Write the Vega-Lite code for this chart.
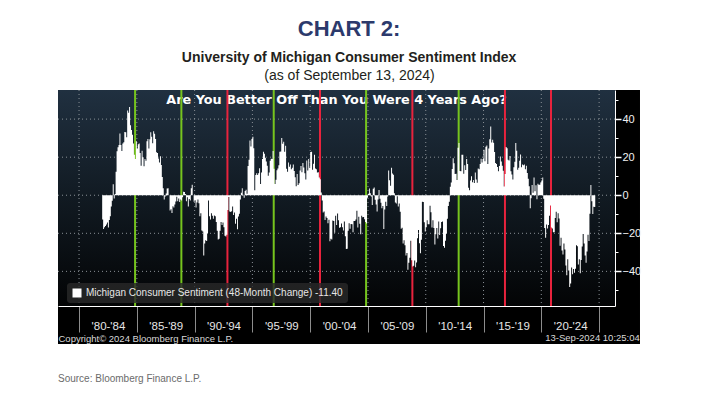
{
  "$schema": "https://vega.github.io/schema/vega-lite/v6.json",
  "width": 557,
  "height": 216,
  "autosize": {"type": "none"},
  "padding": {"left": 58, "top": 90, "right": 88, "bottom": 95},
  "background": "#ffffff",
  "title": {
    "text": "CHART 2:",
    "subtitle": "University of Michigan Consumer Sentiment Index",
    "anchor": "middle",
    "frame": "bounds",
    "font": "Liberation Sans, sans-serif",
    "fontSize": 22,
    "fontWeight": "bold",
    "color": "#2c3a6c",
    "subtitleFont": "Liberation Sans, sans-serif",
    "subtitleFontSize": 14,
    "subtitleFontWeight": "bold",
    "subtitleColor": "#231f20",
    "subtitlePadding": 10,
    "offset": 2
  },
  "config": {"view": {"stroke": null}, "axis": {"grid": false}},
  "resolve": {"axis": {"x": "independent", "y": "independent"}},
  "datasets": {
    "ygrid": [{"v": 40}, {"v": 20}, {"v": 0}, {"v": -20}, {"v": -40}],
    "xgrid": [{"d": "1980-01-01"}, {"d": "1985-01-01"}, {"d": "1990-01-01"}, {"d": "1995-01-01"}, {"d": "2000-01-01"}, {"d": "2005-01-01"}, {"d": "2010-01-01"}, {"d": "2015-01-01"}, {"d": "2020-01-01"}, {"d": "2025-01-01"}],
    "elections": [
      {"d": "1984-11-06", "outcome": "held"}, {"d": "1988-11-08", "outcome": "held"},
      {"d": "1992-11-03", "outcome": "lost"}, {"d": "1996-11-05", "outcome": "held"},
      {"d": "2000-11-07", "outcome": "lost"}, {"d": "2004-11-02", "outcome": "held"},
      {"d": "2008-11-04", "outcome": "lost"}, {"d": "2012-11-06", "outcome": "held"},
      {"d": "2016-11-08", "outcome": "lost"}, {"d": "2020-11-03", "outcome": "lost"}
    ],
    "series": [
      {"d":"1982-01","v":-12.7},{"d":"1982-02","v":-17.8},{"d":"1982-03","v":-16.8},{"d":"1982-04","v":-16.1},{"d":"1982-05","v":-15.4},{"d":"1982-06","v":-14.3},{"d":"1982-07","v":-17.0},{"d":"1982-08","v":-13.0},{"d":"1982-09","v":-11.1},{"d":"1982-10","v":-5.9},{"d":"1982-11","v":-2.9},{"d":"1982-12","v":5.8},
      {"d":"1983-01","v":-1.7},{"d":"1983-02","v":0.7},{"d":"1983-03","v":12.4},{"d":"1983-04","v":23.1},{"d":"1983-05","v":25.2},{"d":"1983-06","v":26.4},{"d":"1983-07","v":32.4},{"d":"1983-08","v":26.4},{"d":"1983-09","v":23.2},{"d":"1983-10","v":27.2},{"d":"1983-11","v":27.8},{"d":"1983-12","v":33.2},
      {"d":"1984-01","v":33.1},{"d":"1984-02","v":30.5},{"d":"1984-03","v":44.5},{"d":"1984-04","v":43.4},{"d":"1984-05","v":46.4},{"d":"1984-06","v":36.8},{"d":"1984-07","v":34.3},{"d":"1984-08","v":31.8},{"d":"1984-09","v":27.2},{"d":"1984-10","v":21.3},{"d":"1984-11","v":19.0},{"d":"1984-12","v":28.4},
      {"d":"1985-01","v":24.6},{"d":"1985-02","v":26.8},{"d":"1985-03","v":27.2},{"d":"1985-04","v":22.2},{"d":"1985-05","v":15.5},{"d":"1985-06","v":23.4},{"d":"1985-07","v":19.9},{"d":"1985-08","v":15.2},{"d":"1985-09","v":19.0},{"d":"1985-10","v":18.1},{"d":"1985-11","v":28.4},{"d":"1985-12","v":29.6},
      {"d":"1986-01","v":24.6},{"d":"1986-02","v":29.4},{"d":"1986-03","v":33.1},{"d":"1986-04","v":30.7},{"d":"1986-05","v":27.3},{"d":"1986-06","v":33.6},{"d":"1986-07","v":32.3},{"d":"1986-08","v":29.5},{"d":"1986-09","v":22.6},{"d":"1986-10","v":22.2},{"d":"1986-11","v":19.3},{"d":"1986-12","v":17.2},
      {"d":"1987-01","v":20.5},{"d":"1987-02","v":15.9},{"d":"1987-03","v":9.6},{"d":"1987-04","v":3.7},{"d":"1987-05","v":-2.2},{"d":"1987-06","v":-0.7},{"d":"1987-07","v":0.9},{"d":"1987-08","v":3.5},{"d":"1987-09","v":3.7},{"d":"1987-10","v":0.0},{"d":"1987-11","v":-8.0},{"d":"1987-12","v":-7.4},
      {"d":"1988-01","v":-9.3},{"d":"1988-02","v":-5.8},{"d":"1988-03","v":-6.4},{"d":"1988-04","v":-4.9},{"d":"1988-05","v":-3.3},{"d":"1988-06","v":-0.8},{"d":"1988-07","v":-3.2},{"d":"1988-08","v":-1.7},{"d":"1988-09","v":-3.6},{"d":"1988-10","v":-2.2},{"d":"1988-11","v":-2.7},{"d":"1988-12","v":-1.0},
      {"d":"1989-01","v":1.9},{"d":"1989-02","v":1.7},{"d":"1989-03","v":0.6},{"d":"1989-04","v":-3.1},{"d":"1989-05","v":-1.1},{"d":"1989-06","v":-5.9},{"d":"1989-07","v":-2.0},{"d":"1989-08","v":-2.8},{"d":"1989-09","v":3.7},{"d":"1989-10","v":5.5},{"d":"1989-11","v":0.0},{"d":"1989-12","v":-3.4},
      {"d":"1990-01","v":-2.6},{"d":"1990-02","v":-6.4},{"d":"1990-03","v":-3.8},{"d":"1990-04","v":-2.3},{"d":"1990-05","v":-4.2},{"d":"1990-06","v":-11.0},{"d":"1990-07","v":-9.5},{"d":"1990-08","v":-18.5},{"d":"1990-09","v":-19.1},{"d":"1990-10","v":-31.7},{"d":"1990-11","v":-25.4},{"d":"1990-12","v":-23.6},
      {"d":"1991-01","v":-24.1},{"d":"1991-02","v":-20.1},{"d":"1991-03","v":-2.7},{"d":"1991-04","v":-11.0},{"d":"1991-05","v":-12.8},{"d":"1991-06","v":-9.4},{"d":"1991-07","v":-10.8},{"d":"1991-08","v":-12.4},{"d":"1991-09","v":-10.6},{"d":"1991-10","v":-11.0},{"d":"1991-11","v":-14.0},{"d":"1991-12","v":-18.6},
      {"d":"1992-01","v":-23.3},{"d":"1992-02","v":-22.8},{"d":"1992-03","v":-18.6},{"d":"1992-04","v":-14.0},{"d":"1992-05","v":-15.6},{"d":"1992-06","v":-14.3},{"d":"1992-07","v":-16.8},{"d":"1992-08","v":-21.3},{"d":"1992-09","v":-21.7},{"d":"1992-10","v":-20.8},{"d":"1992-11","v":-7.7},{"d":"1992-12","v":-0.9},
      {"d":"1993-01","v":-8.6},{"d":"1993-02","v":-8.8},{"d":"1993-03","v":-8.4},{"d":"1993-04","v":-5.9},{"d":"1993-05","v":-10.4},{"d":"1993-06","v":-9.1},{"d":"1993-07","v":-15.0},{"d":"1993-08","v":-12.3},{"d":"1993-09","v":-17.9},{"d":"1993-10","v":-11.2},{"d":"1993-11","v":-9.7},{"d":"1993-12","v":-2.3},
      {"d":"1994-01","v":1.3},{"d":"1994-02","v":3.7},{"d":"1994-03","v":0.2},{"d":"1994-04","v":-1.3},{"d":"1994-05","v":2.2},{"d":"1994-06","v":2.9},{"d":"1994-07","v":0.8},{"d":"1994-08","v":15.3},{"d":"1994-09","v":18.7},{"d":"1994-10","v":28.8},{"d":"1994-11","v":25.6},{"d":"1994-12","v":29.6},
      {"d":"1995-01","v":30.8},{"d":"1995-02","v":24.7},{"d":"1995-03","v":2.6},{"d":"1995-04","v":10.7},{"d":"1995-05","v":11.5},{"d":"1995-06","v":10.6},{"d":"1995-07","v":11.5},{"d":"1995-08","v":14.2},{"d":"1995-09","v":5.9},{"d":"1995-10","v":11.9},{"d":"1995-11","v":19.1},{"d":"1995-12","v":22.8},
      {"d":"1996-01","v":21.8},{"d":"1996-02","v":19.7},{"d":"1996-03","v":17.7},{"d":"1996-04","v":15.5},{"d":"1996-05","v":10.2},{"d":"1996-06","v":12.0},{"d":"1996-07","v":18.1},{"d":"1996-08","v":19.2},{"d":"1996-09","v":19.1},{"d":"1996-10","v":23.2},{"d":"1996-11","v":13.9},{"d":"1996-12","v":5.9},
      {"d":"1997-01","v":8.1},{"d":"1997-02","v":13.1},{"d":"1997-03","v":14.1},{"d":"1997-04","v":15.8},{"d":"1997-05","v":22.9},{"d":"1997-06","v":23.0},{"d":"1997-07","v":30.1},{"d":"1997-08","v":27.1},{"d":"1997-09","v":28.1},{"d":"1997-10","v":22.9},{"d":"1997-11","v":26.0},{"d":"1997-12","v":13.9},
      {"d":"1998-01","v":12.3},{"d":"1998-02","v":17.2},{"d":"1998-03","v":15.0},{"d":"1998-04","v":16.1},{"d":"1998-05","v":13.7},{"d":"1998-06","v":14.4},{"d":"1998-07","v":16.2},{"d":"1998-08","v":12.7},{"d":"1998-09","v":9.4},{"d":"1998-10","v":4.7},{"d":"1998-11","v":11.1},{"d":"1998-12","v":5.4},
      {"d":"1999-01","v":6.3},{"d":"1999-02","v":13.0},{"d":"1999-03","v":15.4},{"d":"1999-04","v":12.1},{"d":"1999-05","v":17.0},{"d":"1999-06","v":14.6},{"d":"1999-07","v":11.6},{"d":"1999-08","v":8.3},{"d":"1999-09","v":18.3},{"d":"1999-10","v":13.0},{"d":"1999-11","v":19.0},{"d":"1999-12","v":14.4},
      {"d":"2000-01","v":22.7},{"d":"2000-02","v":22.8},{"d":"2000-03","v":13.4},{"d":"2000-04","v":16.5},{"d":"2000-05","v":21.3},{"d":"2000-06","v":14.0},{"d":"2000-07","v":13.6},{"d":"2000-08","v":12.0},{"d":"2000-09","v":12.1},{"d":"2000-10","v":9.3},{"d":"2000-11","v":8.4},{"d":"2000-12","v":1.5},
      {"d":"2001-01","v":-2.7},{"d":"2001-02","v":-9.1},{"d":"2001-03","v":-8.5},{"d":"2001-04","v":-13.0},{"d":"2001-05","v":-11.2},{"d":"2001-06","v":-11.9},{"d":"2001-07","v":-14.7},{"d":"2001-08","v":-12.9},{"d":"2001-09","v":-24.2},{"d":"2001-10","v":-22.9},{"d":"2001-11","v":-23.3},{"d":"2001-12","v":-13.3},
      {"d":"2002-01","v":-13.6},{"d":"2002-02","v":-19.7},{"d":"2002-03","v":-10.8},{"d":"2002-04","v":-15.7},{"d":"2002-05","v":-9.6},{"d":"2002-06","v":-13.2},{"d":"2002-07","v":-17.1},{"d":"2002-08","v":-16.8},{"d":"2002-09","v":-14.8},{"d":"2002-10","v":-16.8},{"d":"2002-11","v":-18.5},{"d":"2002-12","v":-13.8},
      {"d":"2003-01","v":-21.5},{"d":"2003-02","v":-28.2},{"d":"2003-03","v":-28.1},{"d":"2003-04","v":-18.6},{"d":"2003-05","v":-14.7},{"d":"2003-06","v":-17.6},{"d":"2003-07","v":-15.1},{"d":"2003-08","v":-15.2},{"d":"2003-09","v":-19.5},{"d":"2003-10","v":-13.6},{"d":"2003-11","v":-13.5},{"d":"2003-12","v":-12.8},
      {"d":"2004-01","v":-8.2},{"d":"2004-02","v":-16.9},{"d":"2004-03","v":-11.3},{"d":"2004-04","v":-15.0},{"d":"2004-05","v":-20.5},{"d":"2004-06","v":-10.8},{"d":"2004-07","v":-11.6},{"d":"2004-08","v":-11.4},{"d":"2004-09","v":-12.6},{"d":"2004-10","v":-14.1},{"d":"2004-11","v":-14.8},{"d":"2004-12","v":-1.3},
      {"d":"2005-01","v":0.8},{"d":"2005-02","v":3.5},{"d":"2005-03","v":1.1},{"d":"2005-04","v":-0.7},{"d":"2005-05","v":-5.1},{"d":"2005-06","v":3.4},{"d":"2005-07","v":4.1},{"d":"2005-08","v":-2.4},{"d":"2005-09","v":-4.9},{"d":"2005-10","v":-8.5},{"d":"2005-11","v":-2.3},{"d":"2005-12","v":2.7},
      {"d":"2006-01","v":-1.8},{"d":"2006-02","v":-4.0},{"d":"2006-03","v":-6.8},{"d":"2006-04","v":-5.6},{"d":"2006-05","v":-17.8},{"d":"2006-06","v":-7.5},{"d":"2006-07","v":-3.4},{"d":"2006-08","v":-5.6},{"d":"2006-09","v":-0.7},{"d":"2006-10","v":13.0},{"d":"2006-11","v":7.9},{"d":"2006-12","v":5.0},
      {"d":"2007-01","v":14.5},{"d":"2007-02","v":11.4},{"d":"2007-03","v":10.8},{"d":"2007-04","v":1.1},{"d":"2007-05","v":-3.8},{"d":"2007-06","v":-4.4},{"d":"2007-07","v":-0.5},{"d":"2007-08","v":-5.9},{"d":"2007-09","v":-4.3},{"d":"2007-10","v":-8.7},{"d":"2007-11","v":-17.6},{"d":"2007-12","v":-17.1},
      {"d":"2008-01","v":-25.4},{"d":"2008-02","v":-23.6},{"d":"2008-03","v":-26.3},{"d":"2008-04","v":-31.6},{"d":"2008-05","v":-30.4},{"d":"2008-06","v":-39.2},{"d":"2008-07","v":-35.5},{"d":"2008-08","v":-32.9},{"d":"2008-09","v":-23.9},{"d":"2008-10","v":-34.1},{"d":"2008-11","v":-37.5},{"d":"2008-12","v":-37.0},
      {"d":"2009-01","v":-34.3},{"d":"2009-02","v":-37.8},{"d":"2009-03","v":-35.3},{"d":"2009-04","v":-22.6},{"d":"2009-05","v":-18.2},{"d":"2009-06","v":-25.2},{"d":"2009-07","v":-30.5},{"d":"2009-08","v":-23.4},{"d":"2009-09","v":-3.4},{"d":"2009-10","v":-3.6},{"d":"2009-11","v":-14.2},{"d":"2009-12","v":-19.0},
      {"d":"2010-01","v":-16.8},{"d":"2010-02","v":-13.1},{"d":"2010-03","v":-15.3},{"d":"2010-04","v":-15.2},{"d":"2010-05","v":-5.5},{"d":"2010-06","v":-8.9},{"d":"2010-07","v":-16.9},{"d":"2010-08","v":-13.1},{"d":"2010-09","v":-17.2},{"d":"2010-10","v":-25.9},{"d":"2010-11","v":-20.5},{"d":"2010-12","v":-17.2},
      {"d":"2011-01","v":-22.7},{"d":"2011-02","v":-13.8},{"d":"2011-03","v":-20.9},{"d":"2011-04","v":-17.3},{"d":"2011-05","v":-14.0},{"d":"2011-06","v":-13.8},{"d":"2011-07","v":-26.7},{"d":"2011-08","v":-27.6},{"d":"2011-09","v":-23.9},{"d":"2011-10","v":-20.1},{"d":"2011-11","v":-12.4},{"d":"2011-12","v":-5.6},
      {"d":"2012-01","v":-3.4},{"d":"2012-02","v":4.5},{"d":"2012-03","v":6.7},{"d":"2012-04","v":13.8},{"d":"2012-05","v":19.5},{"d":"2012-06","v":16.8},{"d":"2012-07","v":11.1},{"d":"2012-08","v":11.3},{"d":"2012-09","v":8.0},{"d":"2012-10","v":25.0},{"d":"2012-11","v":27.4},{"d":"2012-12","v":12.8},
      {"d":"2013-01","v":12.6},{"d":"2013-02","v":21.3},{"d":"2013-03","v":21.3},{"d":"2013-04","v":11.3},{"d":"2013-05","v":15.8},{"d":"2013-06","v":13.3},{"d":"2013-07","v":19.1},{"d":"2013-08","v":16.4},{"d":"2013-09","v":4.0},{"d":"2013-10","v":2.6},{"d":"2013-11","v":7.7},{"d":"2013-12","v":10.0},
      {"d":"2014-01","v":6.8},{"d":"2014-02","v":8.0},{"d":"2014-03","v":6.4},{"d":"2014-04","v":11.9},{"d":"2014-05","v":8.3},{"d":"2014-06","v":6.5},{"d":"2014-07","v":14.0},{"d":"2014-08","v":13.6},{"d":"2014-09","v":16.4},{"d":"2014-10","v":19.2},{"d":"2014-11","v":17.2},{"d":"2014-12","v":19.1},
      {"d":"2015-01","v":23.9},{"d":"2015-02","v":17.9},{"d":"2015-03","v":25.5},{"d":"2015-04","v":26.1},{"d":"2015-05","v":16.4},{"d":"2015-06","v":24.6},{"d":"2015-07","v":29.4},{"d":"2015-08","v":36.1},{"d":"2015-09","v":27.7},{"d":"2015-10","v":29.2},{"d":"2015-11","v":27.6},{"d":"2015-12","v":22.7},
      {"d":"2016-01","v":17.0},{"d":"2016-02","v":16.4},{"d":"2016-03","v":14.8},{"d":"2016-04","v":12.6},{"d":"2016-05","v":15.4},{"d":"2016-06","v":20.3},{"d":"2016-07","v":17.7},{"d":"2016-08","v":15.5},{"d":"2016-09","v":12.9},{"d":"2016-10","v":4.6},{"d":"2016-11","v":11.1},{"d":"2016-12","v":25.3},
      {"d":"2017-01","v":24.7},{"d":"2017-02","v":18.7},{"d":"2017-03","v":18.3},{"d":"2017-04","v":20.6},{"d":"2017-05","v":12.6},{"d":"2017-06","v":10.9},{"d":"2017-07","v":8.3},{"d":"2017-08","v":14.7},{"d":"2017-09","v":17.6},{"d":"2017-10","v":27.5},{"d":"2017-11","v":23.4},{"d":"2017-12","v":13.4},
      {"d":"2018-01","v":14.5},{"d":"2018-02","v":18.1},{"d":"2018-03","v":21.4},{"d":"2018-04","v":14.7},{"d":"2018-05","v":16.1},{"d":"2018-06","v":15.7},{"d":"2018-07","v":16.1},{"d":"2018-08","v":13.7},{"d":"2018-09","v":15.5},{"d":"2018-10","v":11.7},{"d":"2018-11","v":8.7},{"d":"2018-12","v":4.7},
      {"d":"2019-01","v":-6.9},{"d":"2019-02","v":-1.6},{"d":"2019-03","v":5.4},{"d":"2019-04","v":1.3},{"d":"2019-05","v":9.3},{"d":"2019-06","v":2.1},{"d":"2019-07","v":5.3},{"d":"2019-08","v":-2.1},{"d":"2019-09","v":6.0},{"d":"2019-10","v":5.5},{"d":"2019-11","v":5.5},{"d":"2019-12","v":6.7},
      {"d":"2020-01","v":7.8},{"d":"2020-02","v":9.3},{"d":"2020-03","v":-1.9},{"d":"2020-04","v":-17.2},{"d":"2020-05","v":-22.4},{"d":"2020-06","v":-15.4},{"d":"2020-07","v":-17.5},{"d":"2020-08","v":-15.7},{"d":"2020-09","v":-10.8},{"d":"2020-10","v":-5.4},{"d":"2020-11","v":-16.9},{"d":"2020-12","v":-17.5},
      {"d":"2021-01","v":-19.5},{"d":"2021-02","v":-19.5},{"d":"2021-03","v":-12.0},{"d":"2021-04","v":-8.7},{"d":"2021-05","v":-14.2},{"d":"2021-06","v":-9.5},{"d":"2021-07","v":-12.2},{"d":"2021-08","v":-26.5},{"d":"2021-09","v":-22.3},{"d":"2021-10","v":-29.0},{"d":"2021-11","v":-31.1},{"d":"2021-12","v":-25.3},
      {"d":"2022-01","v":-28.5},{"d":"2022-02","v":-36.9},{"d":"2022-03","v":-42.0},{"d":"2022-04","v":-33.6},{"d":"2022-05","v":-39.6},{"d":"2022-06","v":-48.2},{"d":"2022-07","v":-46.4},{"d":"2022-08","v":-38.0},{"d":"2022-09","v":-41.5},{"d":"2022-10","v":-38.7},{"d":"2022-11","v":-40.7},{"d":"2022-12","v":-38.6},
      {"d":"2023-01","v":-26.3},{"d":"2023-02","v":-26.8},{"d":"2023-03","v":-36.4},{"d":"2023-04","v":-33.7},{"d":"2023-05","v":-41.0},{"d":"2023-06","v":-34.0},{"d":"2023-07","v":-26.9},{"d":"2023-08","v":-20.4},{"d":"2023-09","v":-25.3},{"d":"2023-10","v":-31.7},{"d":"2023-11","v":-35.5},{"d":"2023-12","v":-29.6},
      {"d":"2024-01","v":-20.8},{"d":"2024-02","v":-24.1},{"d":"2024-03","v":-9.7},{"d":"2024-04","v":5.4},{"d":"2024-05","v":-3.2},{"d":"2024-06","v":-9.9},{"d":"2024-07","v":-6.1},{"d":"2024-08","v":-6.2},{"d":"2024-09","v":-11.4}
    ]
  },
  "layer": [
    {
      "data": {"values": [{}]},
      "mark": {"type": "rect", "color": "#000000", "clip": false},
      "encoding": {
        "x": {"datum": {"year": 1978, "month": 3, "date": 7}, "type": "temporal", "axis": null},
        "x2": {"datum": {"year": 2028, "month": 7, "date": 16}},
        "y": {"datum": 55.3, "type": "quantitative", "axis": null},
        "y2": {"datum": -78.2}
      }
    },
    {
      "data": {"values": [{}]},
      "mark": {
        "type": "rect",
        "clip": false,
        "fill": {"gradient": "linear", "x1": 0, "y1": 0, "x2": 0, "y2": 1,
          "stops": [{"offset": 0, "color": "#203040"}, {"offset": 0.5, "color": "#111a22"}, {"offset": 1, "color": "#030405"}]}
      },
      "encoding": {
        "x": {
          "datum": {"year": 1978, "month": 3, "date": 7}, "type": "temporal",
          "axis": {
            "orient": "top", "title": "(as of September 13, 2024)", "labels": false, "ticks": false, "domain": false, "grid": false,
            "titleX": 291, "titleY": -11, "titleAlign": "center", "titleBaseline": "alphabetic",
            "titleFont": "Liberation Sans, sans-serif", "titleFontSize": 14, "titleFontWeight": "normal", "titleColor": "#231f20"
          }
        },
        "x2": {"datum": {"year": 2026, "month": 5, "date": 18}},
        "y": {"datum": 55.3, "type": "quantitative", "axis": null},
        "y2": {"datum": -58.2}
      }
    },
    {
      "data": {"name": "ygrid"},
      "mark": {"type": "rule", "color": "#8a9096", "strokeDash": [1, 3], "strokeWidth": 1},
      "encoding": {
        "y": {
          "field": "v", "type": "quantitative",
          "axis": {"orient": "right", "values": [-50, -30, -10, 10, 30, 50], "labels": false, "domain": false, "grid": false, "tickSize": 3, "tickColor": "#ffffff", "tickWidth": 1, "title": null, "zindex": 1}
        }
      }
    },
    {
      "data": {"name": "xgrid"},
      "mark": {"type": "rule", "color": "#8a9096", "strokeDash": [1, 3], "strokeWidth": 1},
      "encoding": {"x": {"field": "d", "type": "temporal", "axis": null}}
    },
    {
      "data": {"values": [{}]},
      "mark": {"type": "text", "text": "Are You Better Off Than You Were 4 Years Ago?", "font": "DejaVu Sans", "fontSize": 12.8, "fontWeight": "bold", "color": "#ffffff", "align": "center", "baseline": "middle"},
      "encoding": {
        "x": {"datum": {"year": 2002, "month": 4, "date": 12}, "type": "temporal", "axis": null},
        "y": {"datum": 50.3, "type": "quantitative", "axis": null}
      }
    },
    {
      "data": {"name": "elections"},
      "mark": {"type": "rule", "strokeWidth": 2},
      "encoding": {
        "x": {"field": "d", "type": "temporal", "axis": null},
        "stroke": {"field": "outcome", "type": "nominal", "scale": {"domain": ["held", "lost"], "range": ["#76c41e", "#e8233d"]}, "legend": null}
      }
    },
    {
      "data": {"name": "series"},
      "mark": {"type": "area", "interpolate": "step-after"},
      "encoding": {
        "x": {
          "field": "d", "type": "temporal",
          "scale": {"domain": [{"year": 1978, "month": 3, "date": 7}, {"year": 2026, "month": 5, "date": 18}]},
          "axis": {
            "orient": "bottom",
            "values": [{"year": 1980}, {"year": 1985}, {"year": 1990}, {"year": 1995}, {"year": 2000}, {"year": 2005}, {"year": 2010}, {"year": 2015}, {"year": 2020}, {"year": 2025}],
            "labelExpr": "year(datum.value) >= 2025 ? '' : \"'\" + timeFormat(datum.value, '%y') + \"-'\" + slice(toString(year(datum.value) + 4), 2)",
            "labelOffset": 28.9, "labelPadding": -12, "labelFlush": false, "labelOverlap": false, "labelBound": false,
            "labelFont": "Liberation Sans", "labelFontSize": 11.5, "labelColor": "#e6e6e6",
            "tickSize": 26, "tickColor": "#8c8c8c", "tickWidth": 1,
            "domainColor": "#ffffff", "domainWidth": 1, "grid": false,
            "title": "Copyright\u00a9 2024 Bloomberg Finance L.P.",
            "titleX": 0, "titleY": 35.5, "titleAlign": "left", "titleAnchor": "start", "titleBaseline": "alphabetic",
            "titleFont": "Liberation Sans", "titleFontSize": 9.5, "titleFontWeight": "normal", "titleColor": "#d9d9d9",
            "zindex": 1
          }
        },
        "y": {
          "field": "v", "type": "quantitative", "stack": null,
          "scale": {"domain": [-58.2, 55.3], "nice": false, "zero": false},
          "axis": {
            "orient": "right", "values": [-40, -20, 0, 20, 40], "grid": false, "title": null,
            "tickSize": 6, "tickWidth": 1.5, "tickColor": "#ffffff", "domainColor": "#ffffff", "domainWidth": 1,
            "labelColor": "#f2f2f2", "labelFont": "Liberation Sans", "labelFontSize": 11, "labelPadding": 1,
            "zindex": 1
          }
        },
        "color": {
          "datum": "Michigan Consumer Sentiment (48-Month Change) -11.40",
          "scale": {"range": ["#ffffff"]},
          "legend": {
            "orient": "none", "legendX": 9, "legendY": 193, "title": null, "direction": "vertical",
            "fillColor": "rgba(40,40,40,0.82)", "padding": 5, "cornerRadius": 3,
            "symbolType": "square", "symbolSize": 81, "symbolStrokeWidth": 0, "symbolFillColor": "#ffffff", "symbolOpacity": 1,
            "labelFont": "Liberation Sans", "labelFontSize": 10, "labelColor": "#e6e6e6", "labelLimit": 500, "labelOffset": 4
          }
        }
      }
    },
    {
      "data": {"values": [{}]},
      "mark": {"type": "text", "text": "13-Sep-2024 10:25:04", "align": "right", "baseline": "alphabetic", "font": "Liberation Sans", "fontSize": 9.5, "color": "#d9d9d9", "clip": false},
      "encoding": {
        "x": {"datum": {"year": 2028, "month": 7, "date": 10}, "type": "temporal", "axis": null},
        "y": {"datum": -76.6, "type": "quantitative", "axis": null}
      }
    },
    {
      "data": {"values": [{}]},
      "mark": {"type": "text", "text": "Source: Bloomberg Finance L.P.", "align": "left", "baseline": "alphabetic", "font": "Liberation Sans", "fontSize": 10, "color": "#6b6b6b", "clip": false},
      "encoding": {
        "x": {"datum": {"year": 1978, "month": 3, "date": 7}, "type": "temporal", "axis": null},
        "y": {"datum": -97.9, "type": "quantitative", "axis": null}
      }
    }
  ]
}
